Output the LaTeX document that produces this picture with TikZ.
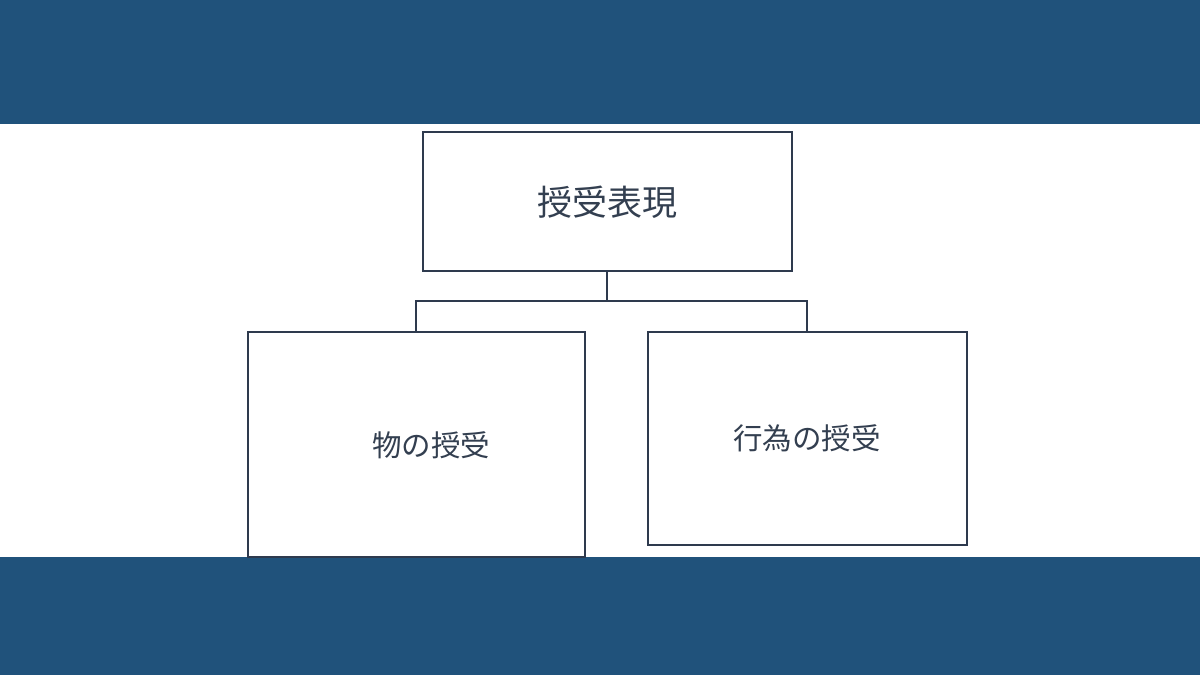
\documentclass[tikz,border=0pt]{standalone}
\usepackage{fontspec}
\newfontfamily\cjk{Noto Sans CJK JP}
\definecolor{bandblue}{HTML}{20527B}
\definecolor{boxline}{HTML}{2E3A4E}
\definecolor{boxtext}{HTML}{333F50}
\tikzset{
  termbox/.style={draw=boxline, line width=2pt, fill=white, inner sep=0pt},
  termtext/.style={text=boxtext, font=\cjk\fontsize{29.5}{30}\selectfont, inner sep=0pt},
  link/.style={draw=boxline, line width=1.3pt}
}
\begin{document}
\begin{tikzpicture}[x=1pt,y=-1pt]
    \useasboundingbox (0,0) rectangle (1200,675);
    \fill[bandblue] (0,0) rectangle (1200,124);
    \fill[bandblue] (0,557) rectangle (1200,675);

    \node[termbox, minimum width=369pt, minimum height=139pt] (top) at (607,201) {};
    \node[termtext, font=\cjk\fontsize{35}{36}\selectfont] (toptext) at (607,202) {授受表現};
    \node[termbox, minimum width=337pt, minimum height=225pt] (thing) at (416,444.5) {};
    \node[termtext] (thingtext) at (431,445) {物の授受};
    \node[termbox, minimum width=319pt, minimum height=213pt] (act) at (807,438.5) {};
    \node[termtext] (acttext) at (807,438) {行為の授受};

    \coordinate (bus) at (607,301);
    \draw[link] (top.south) -- (bus);
    \draw[link] (thing.north) |- (bus) -| (act.north);
\end{tikzpicture}
\end{document}
